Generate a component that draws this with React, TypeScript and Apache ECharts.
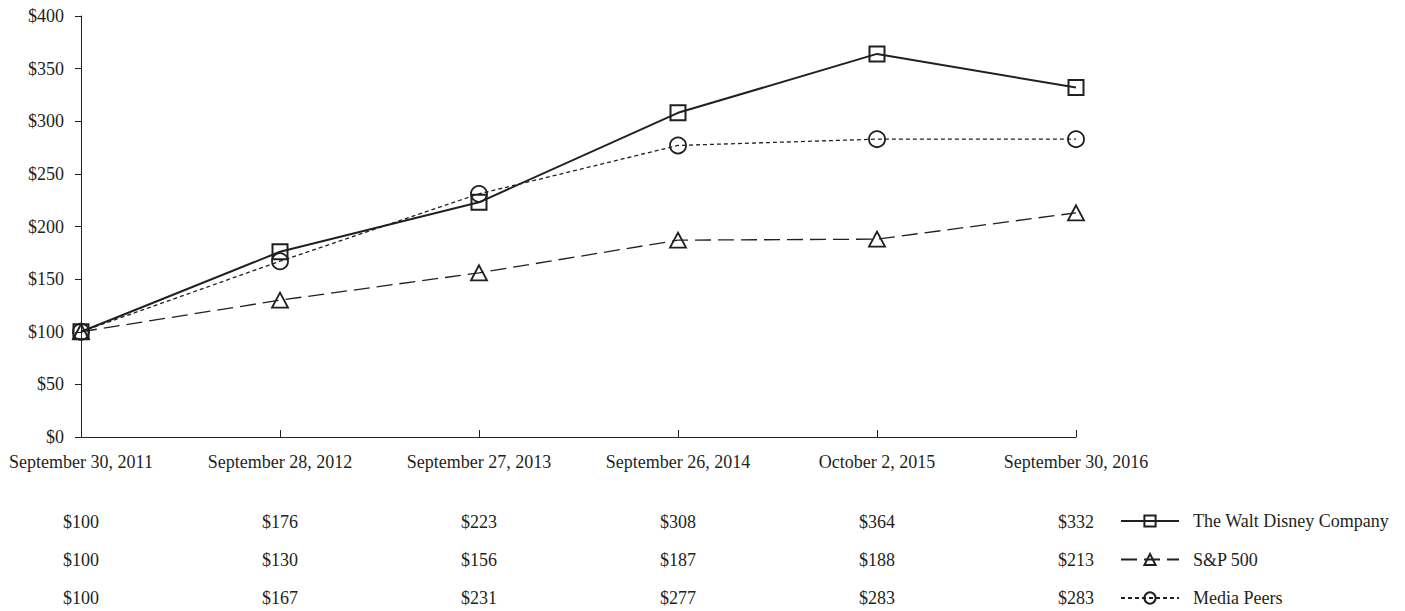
import React, { useEffect, useRef } from "react";
import * as echarts from "echarts";

const categories = [
  "September 30, 2011",
  "September 28, 2012",
  "September 27, 2013",
  "September 26, 2014",
  "October 2, 2015",
  "September 30, 2016",
];
const disney = [100, 176, 223, 308, 364, 332];
const sp500 = [100, 130, 156, 187, 188, 213];
const mediaPeers = [100, 167, 231, 277, 283, 283];
const seriesNames = ["The Walt Disney Company", "S&P 500", "Media Peers"];

const INK = "#231f20";
const FONT = "Liberation Serif";
const FS = 18;

export default function App() {
  const ref = useRef<HTMLDivElement>(null);
  useEffect(() => {
    if (!ref.current) return;
    const chart = echarts.init(ref.current, null, { renderer: "svg" });
    const rowAxis = (vals: number[], offset: number) => ({
      type: "category",
      gridIndex: 0,
      position: "bottom",
      offset,
      data: categories,
      boundaryGap: false,
      axisLine: { show: false },
      axisTick: { show: false },
      axisLabel: {
        interval: 0,
        margin: 8,
        color: INK,
        fontFamily: FONT,
        fontSize: FS,
        formatter: (_v: string, i: number) => "$" + vals[i],
      },
    });
    const option: any = {
      animation: false,
      backgroundColor: "#fff",
      textStyle: { fontFamily: FONT, color: INK },
      grid: { left: 81, right: 329, top: 16, bottom: 174, outerBoundsMode: "none" },
      xAxis: [
        {
          type: "category",
          data: categories,
          boundaryGap: false,
          axisLine: { lineStyle: { color: INK, width: 1 } },
          axisTick: { inside: true, length: 7, lineStyle: { color: INK } },
          axisLabel: { interval: 0, margin: 16, color: INK, fontFamily: FONT, fontSize: FS },
        },
        rowAxis(disney, 68),
        rowAxis(sp500, 106),
        rowAxis(mediaPeers, 144),
      ],
      yAxis: {
        type: "value",
        min: 0,
        max: 400,
        interval: 50,
        splitLine: { show: false },
        axisLine: { show: true, lineStyle: { color: INK, width: 1 } },
        axisTick: { show: true, length: 6, lineStyle: { color: INK } },
        axisLabel: {
          margin: 17,
          color: INK,
          fontFamily: FONT,
          fontSize: FS,
          formatter: (v: number) => "$" + v,
        },
      },
      legend: {
        orient: "vertical",
        left: 1120,
        top: 512,
        padding: 0,
        itemWidth: 58,
        itemHeight: 14,
        itemGap: 20.5,
        height: 99,
        textStyle: { color: INK, fontFamily: FONT, fontSize: FS, padding: [0, 0, 0, 9] },
        data: seriesNames,
      },
      series: [
        {
          name: seriesNames[0],
          type: "line",
          data: disney,
          symbol: "rect",
          symbolSize: 15,
          lineStyle: { color: INK, width: 2 },
          itemStyle: { color: "rgba(0,0,0,0)", borderColor: INK, borderWidth: 2 },
          z: 3,
        },
        {
          name: seriesNames[1],
          type: "line",
          data: sp500,
          symbol: "triangle",
          symbolSize: [16, 15],
          lineStyle: { color: INK, width: 1.3, type: [16, 7] },
          itemStyle: { color: "rgba(0,0,0,0)", borderColor: INK, borderWidth: 1.8 },
          z: 2,
        },
        {
          name: seriesNames[2],
          type: "line",
          data: mediaPeers,
          symbol: "circle",
          symbolSize: 16,
          lineStyle: { color: INK, width: 1.3, type: [4, 3] },
          itemStyle: { color: "rgba(0,0,0,0)", borderColor: INK, borderWidth: 1.8 },
          z: 2,
        },
      ],
    };
    chart.setOption(option);
    return () => chart.dispose();
  }, []);
  return (
    <div
      ref={ref}
      style={{ position: "absolute", left: 0, top: 0, width: 1405, height: 611 }}
    />
  );
}
